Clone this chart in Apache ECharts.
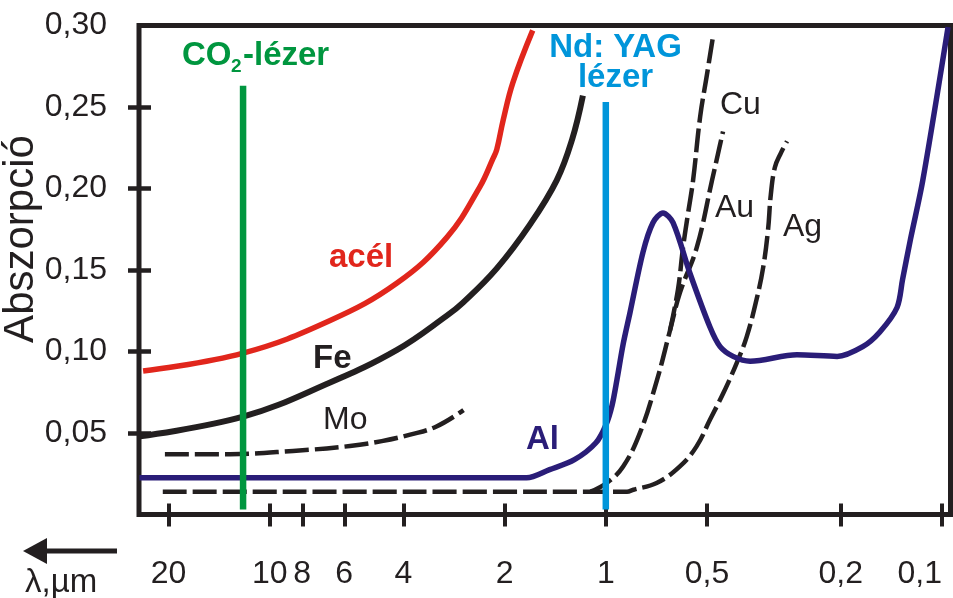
<!DOCTYPE html>
<html>
<head>
<meta charset="utf-8">
<script src="https://cdn.jsdelivr.net/npm/echarts@6/dist/echarts.min.js"></script>
<style>
html,body{margin:0;padding:0;background:#fff;}
#c{width:953px;height:598px;}
</style>
</head>
<body>
<div id="c"></div>
<script>
// ---- data (wavelength in µm, absorption) ----
const tickLabels = [20, 10, 8, 6, 4, 2, 1, 0.5, 0.2, 0.1];
const yLabels = [0.05, 0.10, 0.15, 0.20, 0.25, 0.30];
const yTicks = [0.05, 0.10, 0.15, 0.20, 0.25];
const xRange = [0.0943, 24.48];

const acelWl  = [23.8, 12.0, 6.61, 4.18, 2.97, 2.37, 2.17, 2.11, 2.02, 1.89, 1.65];
const acelAbs = [0.088, 0.099, 0.119, 0.142, 0.170, 0.201, 0.218, 0.224, 0.242, 0.265, 0.297];

const feWl  = [24.3, 12.0, 6.61, 4.18, 2.97, 2.66, 2.11, 1.68, 1.40, 1.26, 1.17];
const feAbs = [0.048, 0.060, 0.081, 0.101, 0.122, 0.130, 0.151, 0.178, 0.205, 0.230, 0.257];

const moWl  = [20.5, 13.1, 8.52, 5.77, 4.64, 3.82, 3.19, 2.65];
const moAbs = [0.037, 0.037, 0.039, 0.042, 0.045, 0.049, 0.054, 0.064];

const alWl  = [24.4, 1.72, 1.47, 1.24, 1.07, 0.999, 0.958, 0.926, 0.889, 0.847, 0.775, 0.724, 0.676, 0.631, 0.562, 0.490, 0.457, 0.418, 0.372, 0.270, 0.205, 0.172, 0.153, 0.136, 0.131, 0.124, 0.114, 0.0959];
const alAbs = [0.0225, 0.0225, 0.0275, 0.0336, 0.044, 0.055, 0.067, 0.083, 0.104, 0.124, 0.161, 0.179, 0.185, 0.179, 0.148, 0.115, 0.103, 0.097, 0.094, 0.098, 0.097, 0.103, 0.112, 0.127, 0.144, 0.169, 0.205, 0.299];

const agWl  = [20.8, 0.865, 0.828, 0.706, 0.602, 0.537, 0.490, 0.447, 0.408, 0.381, 0.356, 0.340, 0.329, 0.323, 0.314, 0.301, 0.289];
const agAbs = [0.014, 0.014, 0.0152, 0.0193, 0.0295, 0.0418, 0.0581, 0.0745, 0.0929, 0.109, 0.132, 0.152, 0.175, 0.196, 0.213, 0.222, 0.229];

const auWl  = [1.11, 0.992, 0.889, 0.791, 0.704, 0.644, 0.602, 0.536, 0.483, 0.464, 0.448];
const auAbs = [0.014, 0.0195, 0.0293, 0.0502, 0.0826, 0.113, 0.136, 0.164, 0.205, 0.221, 0.235];

const cuWl  = [0.644, 0.610, 0.589, 0.569, 0.550, 0.524, 0.500, 0.480];
const cuAbs = [0.113, 0.138, 0.164, 0.185, 0.205, 0.244, 0.270, 0.293];

const co2Wl  = [12.0, 12.0];
const co2Abs = [0.003, 0.263];
const ndWl   = [1.0, 1.0];
const ndAbs  = [0.003, 0.253];

// ---- chart ----
const INK = '#231f20';
const FONT = '"Liberation Sans", Arial, sans-serif';
const lg = Math.log10;
const pts = (w, a) => w.map((v, i) => [lg(v), a[i]]);
const tickPos = tickLabels.map(lg);
const fmtX = (v) => {
  let best = tickLabels[0], d = Infinity;
  tickLabels.forEach(t => { const dd = Math.abs(lg(t) - v); if (dd < d) { d = dd; best = t; } });
  return String(best).replace('.', ',');
};

const chart = echarts.init(document.getElementById('c'), null, {renderer: 'canvas'});

function line(data, color, width, type, smooth, z) {
  return {
    type: 'line', data: data, symbol: 'none', smooth: smooth,
    lineStyle: {color: color, width: width, type: type || 'solid', cap: 'butt', join: 'round'},
    z: z || 2, silent: true, clip: false
  };
}

const xBase = {type: 'value', inverse: true, min: lg(xRange[0]), max: lg(xRange[1]),
  position: 'bottom', axisLine: {show: false, onZero: false}, splitLine: {show: false}};
const yBase = {type: 'value', min: 0, max: 0.3, interval: 0.05, position: 'left',
  axisLine: {show: false, onZero: false}, splitLine: {show: false}};

chart.setOption({
  animation: false,
  backgroundColor: '#fff',
  grid: {left: 139, right: 2.5, top: 25.5, bottom: 83.5, show: true, containLabel: false,
    outerBoundsMode: 'none',
    borderWidth: 5, borderColor: INK, backgroundColor: 'transparent'},
  xAxis: [
    Object.assign({}, xBase, {
      axisTick: {show: true, customValues: tickPos, length: 12, lineStyle: {color: INK, width: 4}},
      axisLabel: {customValues: tickPos, formatter: fmtX, margin: 60, verticalAlign: 'middle',
        fontSize: 32, fontFamily: FONT, color: INK, hideOverlap: false, alignMaxLabel: 'right'}
    }),
    Object.assign({}, xBase, {
      axisTick: {show: true, inside: true, customValues: tickPos, length: 11, lineStyle: {color: INK, width: 4}},
      axisLabel: {show: false}
    })
  ],
  yAxis: [
    Object.assign({}, yBase, {
      axisTick: {show: true, customValues: yTicks, length: 11, lineStyle: {color: INK, width: 4.5}},
      axisLabel: {customValues: yLabels, formatter: v => v.toFixed(2).replace('.', ','), margin: 32,
        fontSize: 32, fontFamily: FONT, color: INK}
    }),
    Object.assign({}, yBase, {
      axisTick: {show: true, inside: true, customValues: yTicks, length: 12, lineStyle: {color: INK, width: 4.5}},
      axisLabel: {show: false}
    })
  ],
  series: [
    line(pts(moWl, moAbs), INK, 4.5, [24, 6], 0.4, 2),
    line(pts(agWl, agAbs), INK, 4.5, [24, 6], 0.4, 2),
    line(pts(auWl, auAbs), INK, 4.5, [24, 6], 0.4, 2),
    line(pts(cuWl, cuAbs), INK, 4.5, [24, 6], 0.4, 2),
    line(pts(acelWl, acelAbs), '#e1261c', 5.5, 'solid', 0.4, 3),
    line(pts(feWl, feAbs), INK, 6, 'solid', 0.4, 3),
    line(pts(alWl, alAbs), '#2a1d78', 5.5, 'solid', 0.3, 3),
    line(pts(co2Wl, co2Abs), '#00963f', 6.5, 'solid', false, 4),
    line(pts(ndWl, ndAbs), '#0095da', 6.5, 'solid', false, 4)
  ],
  graphic: [
    {type: 'text', x: 21, y: 239, rotation: Math.PI / 2,
      style: {text: 'Abszorpció', font: '42px ' + FONT, fill: INK, align: 'center', verticalAlign: 'middle'}},
    {type: 'text', x: 182, y: 56, style: {text: 'CO', font: 'bold 33px ' + FONT, fill: '#00963f', align: 'left', verticalAlign: 'middle'}},
    {type: 'text', x: 231, y: 67, style: {text: '2', font: 'bold 19px ' + FONT, fill: '#00963f', align: 'left', verticalAlign: 'middle'}},
    {type: 'text', x: 243, y: 56, style: {text: '-lézer', font: 'bold 33px ' + FONT, fill: '#00963f', align: 'left', verticalAlign: 'middle'}},
    {type: 'text', x: 615.5, y: 48, style: {text: 'Nd: YAG', font: 'bold 33px ' + FONT, fill: '#0095da', align: 'center', verticalAlign: 'middle'}},
    {type: 'text', x: 615.5, y: 78, style: {text: 'lézer', font: 'bold 33px ' + FONT, fill: '#0095da', align: 'center', verticalAlign: 'middle'}},
    {type: 'text', x: 329, y: 258, style: {text: 'acél', font: 'bold 33px ' + FONT, fill: '#e1261c', align: 'left', verticalAlign: 'middle'}},
    {type: 'text', x: 313, y: 359, style: {text: 'Fe', font: 'bold 33px ' + FONT, fill: INK, align: 'left', verticalAlign: 'middle'}},
    {type: 'text', x: 323, y: 420.5, style: {text: 'Mo', font: '32px ' + FONT, fill: INK, align: 'left', verticalAlign: 'middle'}},
    {type: 'text', x: 526, y: 440, style: {text: 'Al', font: 'bold 33px ' + FONT, fill: '#2a1d78', align: 'left', verticalAlign: 'middle'}},
    {type: 'text', x: 720, y: 105, style: {text: 'Cu', font: '32px ' + FONT, fill: INK, align: 'left', verticalAlign: 'middle'}},
    {type: 'text', x: 715, y: 208.5, style: {text: 'Au', font: '32px ' + FONT, fill: INK, align: 'left', verticalAlign: 'middle'}},
    {type: 'text', x: 783, y: 227, style: {text: 'Ag', font: '32px ' + FONT, fill: INK, align: 'left', verticalAlign: 'middle'}},
    {type: 'text', x: 25, y: 583, style: {text: 'λ,µm', font: '33px ' + FONT, fill: INK, align: 'left', verticalAlign: 'middle'}},
    {type: 'line', shape: {x1: 44, y1: 551, x2: 117, y2: 551}, style: {stroke: INK, lineWidth: 5}},
    {type: 'polygon', shape: {points: [[23, 551], [47, 538], [47, 564]]}, style: {fill: INK}}
  ]
});
</script>
</body>
</html>
